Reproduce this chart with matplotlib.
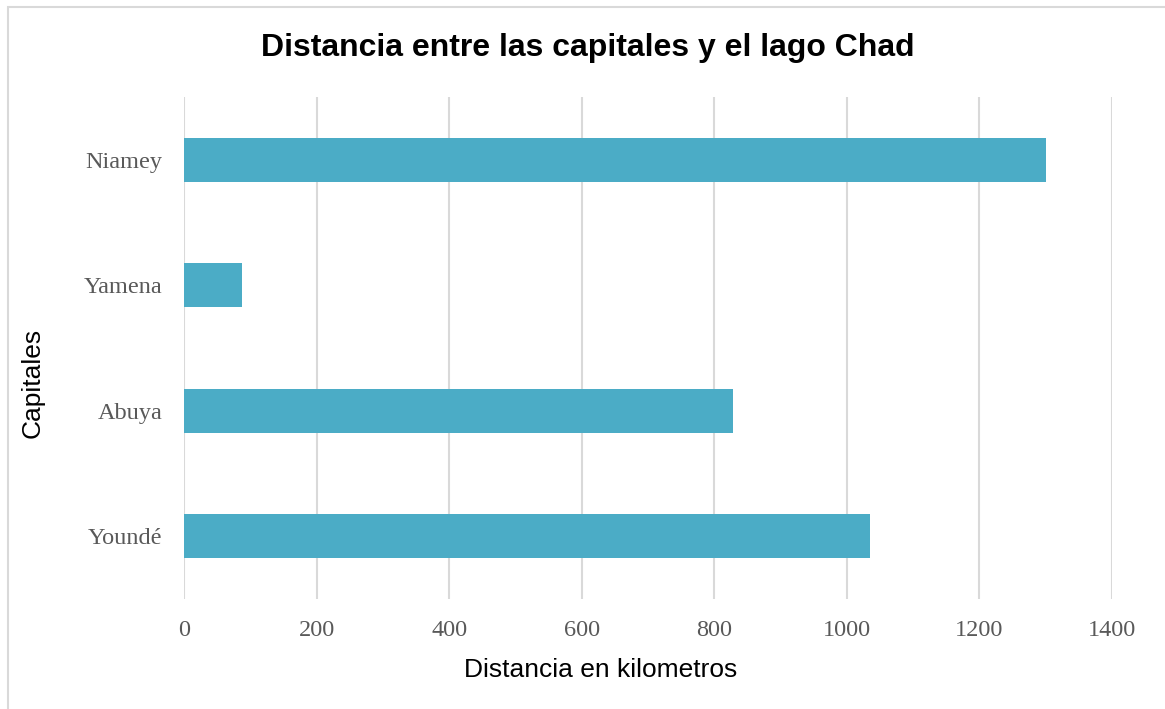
import matplotlib
matplotlib.use("Agg")
import matplotlib.pyplot as plt
from matplotlib.patches import Rectangle

# data (top to bottom as shown)
capitales = ["Niamey", "Yamena", "Abuya", "Youndé"]
distancias = [1300, 88, 828, 1035]
xticks = [0, 200, 400, 600, 800, 1000, 1200, 1400]

BAR = "#4BACC6"
GRID = "#D9D9D9"
TICK = "#595959"

W, H = 1165, 709
fig = plt.figure(figsize=(W / 100, H / 100), dpi=100)

# plot area in pixels: x 184..1112, y 97..599
ax = fig.add_axes([184 / W, 1 - 599 / H, (1112 - 184) / W, (599 - 97) / H])

ypos = list(range(len(capitales)))[::-1]
ax.barh(ypos, distancias, height=0.35, color=BAR, zorder=3)

ax.set_xlim(0, 1400)
ax.set_ylim(-0.5, len(capitales) - 0.5)
ax.set_xticks(xticks)
ax.set_xticklabels([str(t) for t in xticks])
ax.set_yticks(ypos)
ax.set_yticklabels(capitales)

for s in ax.spines.values():
    s.set_visible(False)
ax.xaxis.grid(True, color=GRID, linewidth=1.5, zorder=0)
ax.set_axisbelow(True)
ax.tick_params(axis="both", length=0, labelsize=17.5, labelcolor=TICK)
ax.tick_params(axis="y", pad=15.5)
ax.tick_params(axis="x", pad=15)
for lab in ax.get_xticklabels() + ax.get_yticklabels():
    lab.set_fontfamily("Liberation Serif")

fig.text(588 / W, 1 - 48 / H, "Distancia entre las capitales y el lago Chad",
         ha="center", va="center", fontsize=23, fontweight="bold",
         family="Liberation Sans", color="black")
fig.text(601 / W, 1 - 670 / H, "Distancia en kilometros",
         ha="center", va="center", fontsize=19, family="Liberation Sans",
         color="black")
fig.text(33 / W, 1 - 383 / H, "Capitales", rotation=90,
         ha="center", va="center", fontsize=19, family="Liberation Sans",
         color="black")

# chart frame (cropped on the right and bottom)
fig.patches.append(Rectangle((8 / W, -0.1), 1.2, 1 - 7 / H + 0.1,
                             transform=fig.transFigure, fill=False,
                             edgecolor=GRID, linewidth=1.5))

fig.savefig("out.png", dpi=100)
